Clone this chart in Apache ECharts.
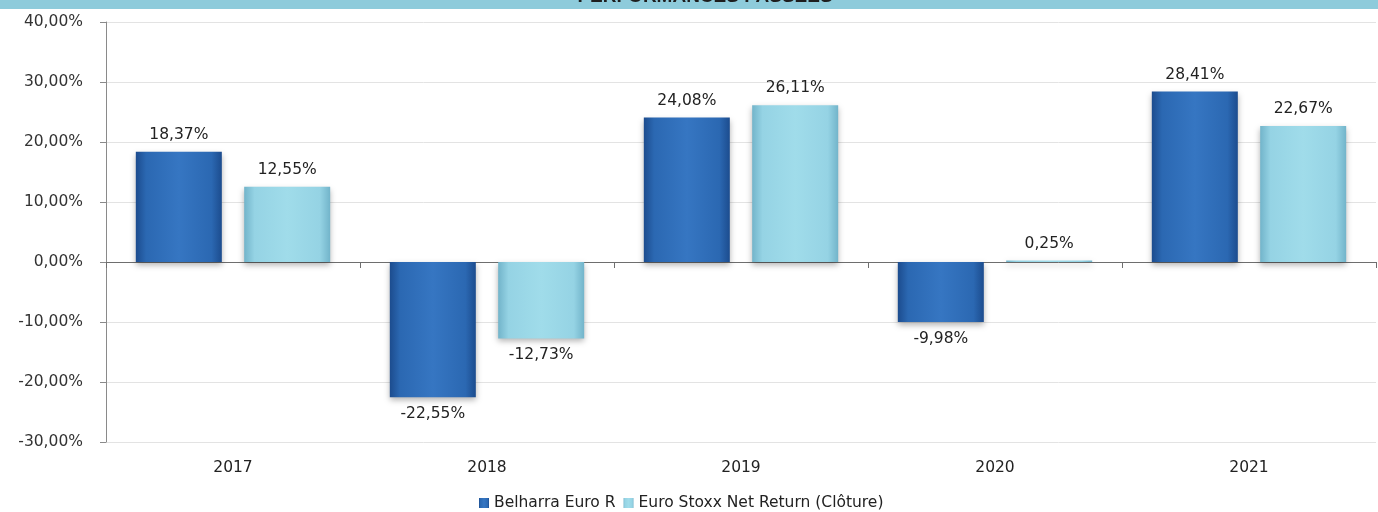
<!DOCTYPE html>
<html>
<head>
<meta charset="utf-8">
<script src="https://cdn.jsdelivr.net/npm/echarts@6/dist/echarts.min.js"></script>
<style>
  html, body { margin: 0; padding: 0; background: #fff; }
  #chart { width: 1378px; height: 512px; }
</style>
</head>
<body>
<div id="chart"></div>
<script>
// Performances annuelles : fonds vs indice de référence
const years = ['2017', '2018', '2019', '2020', '2021'];
const fundName = 'Belharra Euro R';
const indexName = 'Euro Stoxx Net Return (Clôture)';
const fundValues = [18.37, -22.55, 24.08, -9.98, 28.41];
const indexValues = [12.55, -12.73, 26.11, 0.25, 22.67];
const titleText = 'PERFORMANCES PASSEES';

const FONT = 'DejaVu Sans';
const FS = 15.5;
const pct = (v) => v.toFixed(2).replace('.', ',') + '%';

// bevelled look: darker edges, lighter middle
function bevel(edge, mid, centre) {
  return new echarts.graphic.LinearGradient(0, 0, 1, 0, [
    { offset: 0, color: edge },
    { offset: 0.12, color: mid },
    { offset: 0.5, color: centre },
    { offset: 0.88, color: mid },
    { offset: 1, color: edge },
  ]);
}

// negative bars get their label underneath
function withLabels(values) {
  return values.map((v) => ({
    value: v,
    label: { position: v < 0 ? 'bottom' : 'top' },
  }));
}

function barSeries(name, values, color) {
  return {
    name,
    type: 'bar',
    xAxisIndex: 0,
    barWidth: 86,
    barGap: '26%',
    data: withLabels(values),
    itemStyle: {
      color,
      shadowBlur: 6,
      shadowOffsetY: 3,
      shadowColor: 'rgba(0,0,0,0.3)',
    },
    label: {
      show: true,
      distance: 9,
      fontFamily: FONT,
      fontSize: FS,
      color: '#222',
      formatter: (p) => pct(p.value),
    },
  };
}

const chart = echarts.init(document.getElementById('chart'), null, { renderer: 'canvas' });

chart.setOption({
  backgroundColor: '#fff',
  animation: false,
  graphic: [
    { type: 'rect', left: 0, top: 0, shape: { width: 1378, height: 9 }, style: { fill: '#8ecbdb' } },
    {
      type: 'text',
      x: 705,
      y: 6,
      style: {
        text: titleText,
        align: 'center',
        verticalAlign: 'bottom',
        font: 'bold 19px "Liberation Sans", Arial, sans-serif',
        fill: '#1e1e1e',
      },
    },
  ],
  grid: { left: 106, right: 2, top: 22, bottom: 70, containLabel: false },
  legend: {
    left: 474,
    top: 490,
    icon: 'rect',
    itemWidth: 10,
    itemHeight: 10,
    itemGap: 8,
    textStyle: { fontFamily: FONT, fontSize: FS, color: '#222' },
    data: [fundName, indexName],
  },
  xAxis: [
    {
      type: 'category',
      data: years,
      axisLine: { onZero: true, lineStyle: { color: '#6e6e6e', width: 1 } },
      axisTick: { show: true, length: 6, lineStyle: { color: '#6e6e6e' } },
      axisLabel: { show: false },
    },
    {
      type: 'category',
      data: years,
      position: 'bottom',
      axisLine: { show: false, onZero: false },
      axisTick: { show: false },
      axisLabel: { margin: 18, fontFamily: FONT, fontSize: FS, color: '#222' },
    },
  ],
  yAxis: {
    type: 'value',
    min: -30,
    max: 40,
    interval: 10,
    axisLine: { show: true, lineStyle: { color: '#8a8a8a' } },
    axisTick: { show: true, length: 6, lineStyle: { color: '#8a8a8a' } },
    axisLabel: { margin: 23, fontFamily: FONT, fontSize: FS, color: '#333', formatter: (v) => pct(v) },
    splitLine: { show: true, lineStyle: { color: '#e3e3e3' } },
  },
  series: [
    barSeries(fundName, fundValues, bevel('#1c4c8e', '#2b68b2', '#3676c2')),
    barSeries(indexName, indexValues, bevel('#72b4ca', '#95d3e4', '#a0dcea')),
  ],
});
</script>
</body>
</html>
